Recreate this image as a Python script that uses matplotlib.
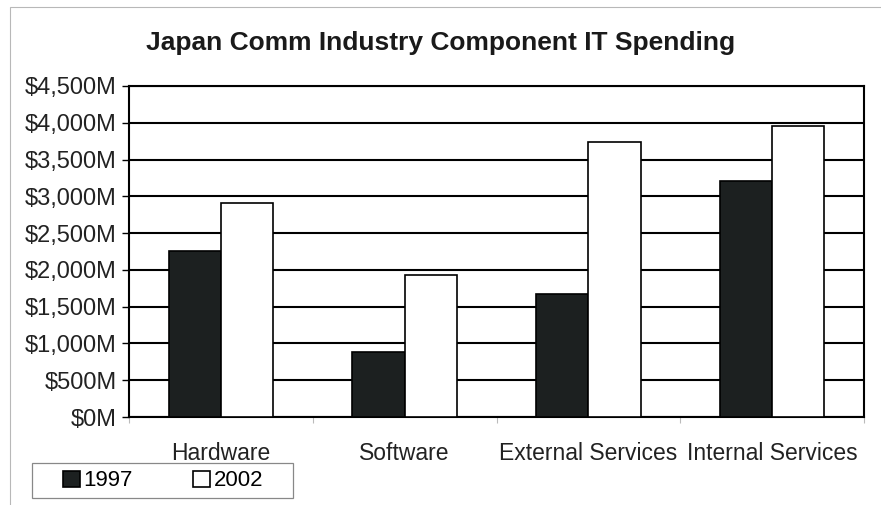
import matplotlib
matplotlib.use("Agg")
import matplotlib.pyplot as plt
from matplotlib.patches import Rectangle
import numpy as np

plt.rcParams['font.family'] = ['Liberation Sans', 'DejaVu Sans']

categories = ["Hardware", "Software", "External Services", "Internal Services"]
series_names = ["1997", "2002"]
spend_1997 = [2250, 885, 1670, 3205]
spend_2002 = [2905, 1925, 3745, 3960]
y_ticks = [0, 500, 1000, 1500, 2000, 2500, 3000, 3500, 4000, 4500]

W, H = 881, 505
fig = plt.figure(figsize=(W / 100, H / 100), dpi=100)
fig.patch.set_facecolor("white")

# outer chart frame
fig.patches.append(Rectangle((10 / W, -0.1), 1.2, (H - 7) / H + 0.1,
                             transform=fig.transFigure, fill=False,
                             edgecolor="#b8b8b8", lw=0.8))

ax = fig.add_axes([129 / W, (H - 417) / H, (864 - 129) / W, (417 - 86) / H])

x = np.arange(len(categories))
bw = 0.285
b1 = ax.bar(x - bw / 2, spend_1997, bw, color="#1c2020", edgecolor="black",
            linewidth=1.2, zorder=3, label=series_names[0])
b2 = ax.bar(x + bw / 2, spend_2002, bw, color="white", edgecolor="black",
            linewidth=1.2, zorder=3, label=series_names[1])

ax.set_xlim(-0.5, len(categories) - 0.5)
ax.set_ylim(0, 4500)
ax.set_yticks(y_ticks)
ax.set_yticklabels([f"${v:,}M" for v in y_ticks], fontsize=17, color="#222222")
ax.yaxis.grid(True, color="black", linewidth=1.5, zorder=0)
ax.set_axisbelow(True)

ax.set_xticks(x)
ax.set_xticklabels(categories, fontsize=16.5, color="#222222")
ax.set_xticks(np.arange(len(categories) + 1) - 0.5, minor=True)
ax.tick_params(axis="x", which="major", length=0, pad=18)
ax.tick_params(axis="x", which="minor", length=4, color="#bbbbbb", width=0.8)
ax.tick_params(axis="y", length=5, width=1, pad=4)

for s in ax.spines.values():
    s.set_color("black")
    s.set_linewidth(1.5)

fig.text(0.5, (H - 43) / H, "Japan Comm Industry Component IT Spending",
         ha="center", va="center", fontsize=19, fontweight="bold", color="#1a1a1a")

# legend box
fig.patches.append(Rectangle((32 / W, (H - 498) / H), (293 - 32) / W, 35 / H,
                             transform=fig.transFigure, fill=False,
                             edgecolor="#888888", lw=0.9))
leg = fig.legend(handles=[b1, b2], labels=series_names, loc="center left",
                 bbox_to_anchor=(63 / W, (H - 481) / H), ncol=2, frameon=False,
                 fontsize=16, handlelength=0.75, handleheight=0.75,
                 handletextpad=0.15, columnspacing=2.75, borderpad=0,
                 borderaxespad=0)

fig.savefig("out.png", dpi=100)
